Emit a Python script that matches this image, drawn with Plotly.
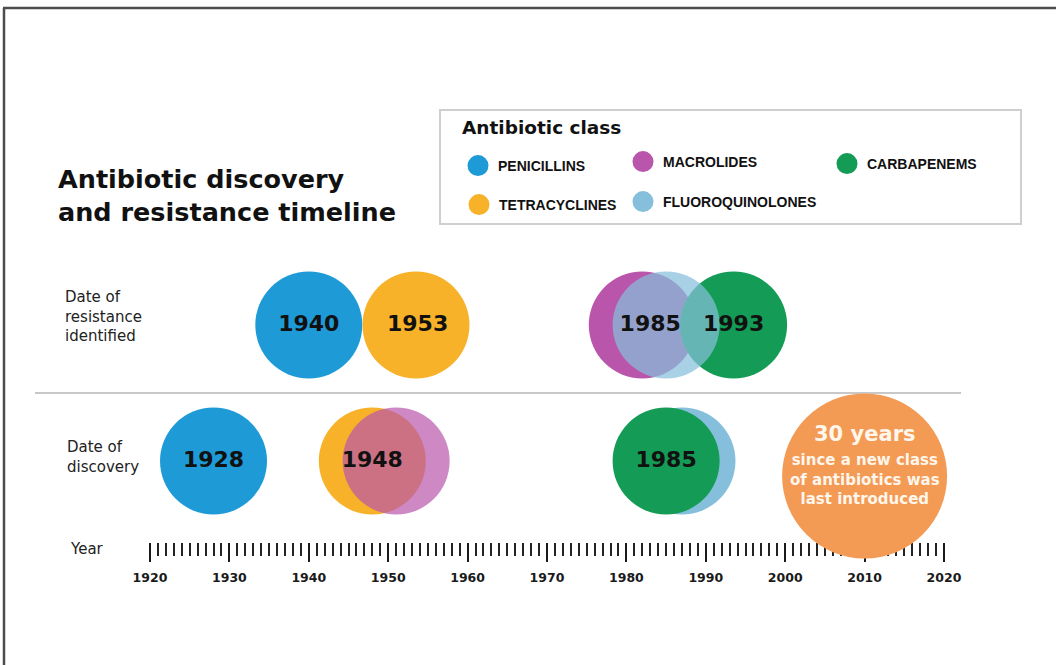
import plotly.graph_objects as go

# ---------------- data ----------------
classes = ["PENICILLINS", "TETRACYCLINES", "MACROLIDES", "FLUOROQUINOLONES", "CARBAPENEMS"]
class_colors = ["#1e9bd7", "#f7b22a", "#b955aa", "#86bfdb", "#149b55"]

discovery_year = [1928, 1948, 1951, 1987, 1985]
resistance_year = [1940, 1953.5, 1982, 1985, 1993.5]

discovery_labels = ["1928", "1948", "1985"]
discovery_label_year = [1928, 1948, 1985]
resistance_labels = ["1940", "1953", "1985", "1993"]
resistance_label_year = [1940, 1953.7, 1983, 1993.5]

gap_year = 2010
gap_headline = "30 years"
gap_text = "since a new class<br>of antibiotics was<br>last introduced"

axis_major = list(range(1920, 2021, 10))
axis_minor = list(range(1920, 2021))

# ---------------- layout constants ----------------
W, H = 1056, 665
X0_YEAR, X0_PX, PX_PER_YEAR = 1920, 150, 7.94
x_range = [X0_YEAR - X0_PX / PX_PER_YEAR, X0_YEAR + (W - X0_PX) / PX_PER_YEAR]
RES_Y, DISC_Y = 325, 461
CIRCLE = 107
FONT = "DejaVu Sans"
LFONT = "Liberation Sans, Arial, sans-serif"


def px(x):
    return x / W


color_of = dict(zip(classes, class_colors))
disc_of = dict(zip(classes, discovery_year))
res_of = dict(zip(classes, resistance_year))

# draw order and opacity per row (overlaps as in the reference)
res_order = [("PENICILLINS", 1), ("TETRACYCLINES", 1), ("MACROLIDES", 1),
             ("CARBAPENEMS", 1), ("FLUOROQUINOLONES", 0.72)]
disc_order = [("PENICILLINS", 1), ("TETRACYCLINES", 1), ("MACROLIDES", 0.7),
              ("FLUOROQUINOLONES", 1), ("CARBAPENEMS", 1)]

fig = go.Figure()

for name, op in res_order:
    fig.add_trace(go.Scatter(
        x=[res_of[name]], y=[RES_Y], mode="markers", name=name,
        marker=dict(size=CIRCLE, color=color_of[name], opacity=op, line=dict(width=0)),
        hoverinfo="skip", showlegend=False))

for name, op in disc_order:
    fig.add_trace(go.Scatter(
        x=[disc_of[name]], y=[DISC_Y], mode="markers", name=name,
        marker=dict(size=CIRCLE, color=color_of[name], opacity=op, line=dict(width=0)),
        hoverinfo="skip", showlegend=False))

# gap highlight circle
fig.add_trace(go.Scatter(
    x=[gap_year], y=[476], mode="markers",
    marker=dict(size=165, color="#f39a55", line=dict(width=0)),
    hoverinfo="skip", showlegend=False))

# year labels inside circles
fig.add_trace(go.Scatter(
    x=resistance_label_year, y=[RES_Y] * len(resistance_labels), mode="text",
    text=resistance_labels,
    textfont=dict(family=FONT, size=22, color="#111111", weight="bold"),
    hoverinfo="skip", showlegend=False))
fig.add_trace(go.Scatter(
    x=discovery_label_year, y=[DISC_Y] * len(discovery_labels), mode="text",
    text=discovery_labels,
    textfont=dict(family=FONT, size=22, color="#111111", weight="bold"),
    hoverinfo="skip", showlegend=False))

# legend entries (one legend per entry so they sit in the reference grid)
legend_pos = {
    "PENICILLINS": (478, 166),
    "MACROLIDES": (643, 162),
    "CARBAPENEMS": (847, 164),
    "TETRACYCLINES": (479, 205),
    "FLUOROQUINOLONES": (643, 202),
}
legend_ids = ["legend", "legend2", "legend3", "legend4", "legend5"]
legend_layout = {}
for lid, name in zip(legend_ids, ["PENICILLINS", "MACROLIDES", "CARBAPENEMS",
                                  "TETRACYCLINES", "FLUOROQUINOLONES"]):
    fig.add_trace(go.Scatter(
        x=[None], y=[None], mode="markers", name=name, legend=lid,
        marker=dict(size=16, color=color_of[name],
                    line=dict(width=5, color=color_of[name])),
        showlegend=True))
    cx, cy = legend_pos[name]
    legend_layout[lid] = dict(
        x=px(cx - 20), y=1 - cy / H, xanchor="left", yanchor="middle",
        bgcolor="rgba(0,0,0,0)", borderwidth=0,
        font=dict(family=LFONT, size=14, color="#111111", weight="bold"))

annotations = [
    dict(text="Antibiotic discovery<br>and resistance timeline", x=px(56), y=195,
         xref="paper", yref="y", xanchor="left", yanchor="middle", align="left",
         showarrow=False, font=dict(family=FONT, size=25.5, color="#111111", weight="bold")),
    dict(text="Antibiotic class", x=px(460), y=127,
         xref="paper", yref="y", xanchor="left", yanchor="middle", align="left",
         showarrow=False, font=dict(family=FONT, size=18.5, color="#111111", weight="bold")),
    dict(text="Date of<br>resistance<br>identified", x=px(63), y=316,
         xref="paper", yref="y", xanchor="left", yanchor="middle", align="left",
         showarrow=False, font=dict(family=FONT, size=15, color="#222222")),
    dict(text="Date of<br>discovery", x=px(65), y=457,
         xref="paper", yref="y", xanchor="left", yanchor="middle", align="left",
         showarrow=False, font=dict(family=FONT, size=15, color="#222222")),
    dict(text="Year", x=px(68), y=549,
         xref="paper", yref="y", xanchor="left", yanchor="middle", align="left",
         showarrow=False, font=dict(family=FONT, size=15, color="#222222")),
    dict(text=gap_headline, x=gap_year, y=434, xref="x", yref="y",
         showarrow=False, font=dict(family=FONT, size=21, color="#fff6ec", weight="bold")),
    dict(text=gap_text, x=gap_year, y=479, xref="x", yref="y",
         showarrow=False, font=dict(family=FONT, size=15, color="#fff6ec", weight="bold")),
]

shapes = [
    # outer frame (top and left)
    dict(type="line", xref="paper", yref="y", x0=px(3), x1=1, y0=8, y1=8,
         line=dict(color="#4d4d4d", width=2.5)),
    dict(type="line", xref="paper", yref="y", x0=px(4), x1=px(4), y0=8, y1=H,
         line=dict(color="#4d4d4d", width=2.5)),
    # legend box
    dict(type="rect", xref="paper", yref="y", x0=px(440), x1=px(1021), y0=110, y1=224,
         line=dict(color="#cfcfcf", width=2), fillcolor="rgba(0,0,0,0)", layer="below"),
    # separator between rows
    dict(type="line", xref="paper", yref="y", x0=px(35), x1=px(961), y0=393, y1=393,
         line=dict(color="#c8c8c8", width=2), layer="below"),
]

fig.update_layout(
    width=W, height=H,
    margin=dict(l=0, r=0, t=0, b=0),
    paper_bgcolor="white", plot_bgcolor="white",
    xaxis=dict(
        range=x_range, anchor="free", position=1 - 542 / H,
        tickmode="array", tickvals=axis_major, ticktext=[str(v) for v in axis_major],
        ticks="outside", ticklen=19, tickwidth=2.2, tickcolor="#1a1a1a",
        minor=dict(tickmode="array", tickvals=axis_minor, ticks="outside",
                   ticklen=13, tickwidth=2, tickcolor="#222222", showgrid=False),
        showgrid=False, zeroline=False, showline=False,
        ticklabelstandoff=5,
        tickfont=dict(family=FONT, size=12.5, color="#1a1a1a", weight="bold"),
        layer="below traces", fixedrange=True),
    yaxis=dict(range=[H, 0], domain=[0, 1], visible=False, fixedrange=True),
    annotations=annotations,
    shapes=shapes,
    showlegend=True,
    **legend_layout,
)

fig.write_html(
    "out.html",
    config={"displayModeBar": False},
    post_script="document.body.style.margin='0';document.body.style.padding='0';",
)
